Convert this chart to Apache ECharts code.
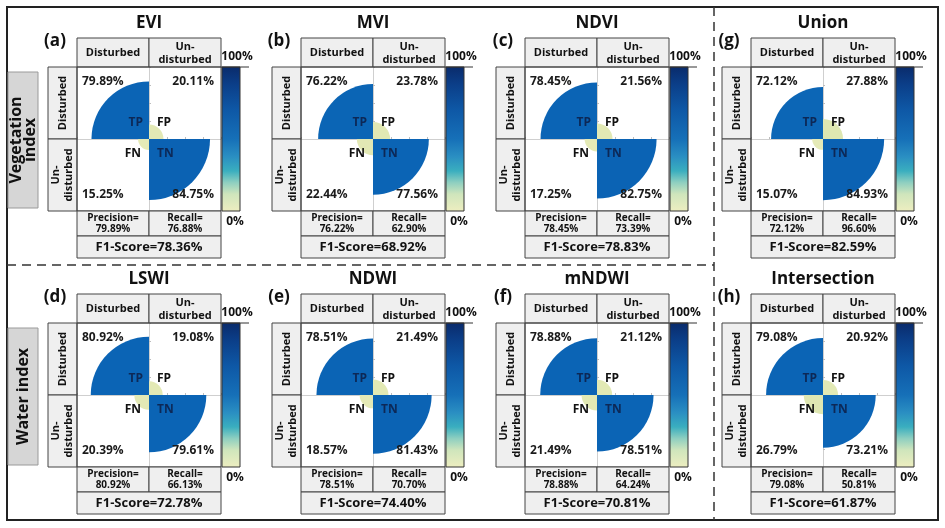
<!DOCTYPE html>
<html><head><meta charset="utf-8">
<script src="https://cdn.jsdelivr.net/npm/echarts@6/dist/echarts.min.js"></script>
<style>html,body{margin:0;padding:0;background:#fff}#c{width:945px;height:528px}</style>
</head><body><div id="c"></div>
<script>
// ---------- data ----------
const panelNames = ['EVI','MVI','NDVI','Union','LSWI','NDWI','mNDWI','Intersection'];
const panelTags = ['(a)','(b)','(c)','(g)','(d)','(e)','(f)','(h)'];
const tpValues = [79.89,76.22,78.45,72.12,80.92,78.51,78.88,79.08];
const fpValues = [20.11,23.78,21.56,27.88,19.08,21.49,21.12,20.92];
const fnValues = [15.25,22.44,17.25,15.07,20.39,18.57,21.49,26.79];
const tnValues = [84.75,77.56,82.75,84.93,79.61,81.43,78.51,73.21];
const precisionValues = [79.89,76.22,78.45,72.12,80.92,78.51,78.88,79.08];
const recallValues = [76.88,62.90,73.39,96.60,66.13,70.70,64.24,50.81];
const f1Values = [78.36,68.92,78.83,82.59,72.78,74.40,70.81,61.87];
const quadrantNames = ['TP','FP','FN','TN'];
const classLabels = ['Disturbed','Un-\ndisturbed'];
const groupLabels = ['Vegetation\nindex','Water index'];
const colorbarTicks = ['100%','0%'];

// ---------- layout / style ----------
const FONT = '"Open Sans","Noto Sans",sans-serif';
const colX = [77, 301, 525, 751];
const rowY = [67, 323];
const S = 144;
const H = S/2;
const mapColors = ['#eeefc2','#e8ecba','#e3e9b5','#dde6b0','#9fd3c0','#3d9bc6','#1a74bb','#0c66b6','#0b64b5','#0b60b0','#0a2d6e'];
const barStops = [
  [0,'#0a2b6b'],[0.12,'#0b3e88'],[0.3,'#0e58a6'],[0.5,'#1670b8'],[0.62,'#2a8ec2'],
  [0.72,'#3aaebf'],[0.8,'#8ecfc0'],[0.88,'#cfe5bc'],[1,'#eeeec0']
];
const headFill = '#efefef', edge = '#444';

function pos(i){ return {x: colX[i%4], y: rowY[Math.floor(i/4)]}; }

const grids = [], xAxes = [], yAxes = [], series = [], elements = [];

function renderQuadrant(params, api){
  const q = api.value(0), v = api.value(1);
  const c = api.coord([0,0]);
  const r = api.size([v/100, 0])[0];
  const half = api.size([1,0])[0];
  const ang = [[Math.PI, Math.PI*1.5],[Math.PI*1.5, Math.PI*2],[Math.PI/2, Math.PI],[0, Math.PI/2]][q];
  const sx = [-1,1,-1,1][q], sy = [-1,-1,1,1][q];
  const cornerX = sx < 0 ? c[0] - half + 5 : c[0] + half - 7;
  const cornerY = sy < 0 ? c[1] - half + 15 : c[1] + half - 16;
  const nameX = [c[0]-6, c[0]+8, c[0]-8, c[0]+8][q];
  const nameY = sy < 0 ? c[1]-16 : c[1]+15;
  return {
    type:'group',
    children:[
      {type:'sector', shape:{cx:c[0], cy:c[1], r0:0, r:r, startAngle:ang[0], endAngle:ang[1], clockwise:true},
       style:{fill: api.visual('color')}},
      {type:'text', z2:10, style:{text: v.toFixed(2)+'%', x:cornerX, y:cornerY, align: sx<0?'left':'right',
        verticalAlign:'middle', fill:'#1a1a1a', font:'bold 12px '+FONT}},
      {type:'text', z2:10, style:{text: quadrantNames[q], x:nameX, y:nameY, align: sx<0?'right':'left',
        verticalAlign:'middle', fill: (q===0||q===3)?'#0d2856':'#111', font:'bold 12px '+FONT}}
    ]
  };
}

function box(x,y,w,h,fill){
  return {type:'rect', shape:{x,y,width:w,height:h}, style:{fill: fill||'none', stroke: edge, lineWidth:1}, z:1};
}
function txt(t,x,y,font,opts){
  return Object.assign({type:'text', z:5, style:Object.assign({text:t, x, y, align:'center', verticalAlign:'middle', fill:'#111', font}, opts && opts.style || {})}, opts && opts.el || {});
}

for (let i = 0; i < 8; i++){
  const p = pos(i);
  grids.push({left:p.x, top:p.y, width:S, height:S});
  const axisCommon = {
    type:'value', gridIndex:i, min:-1, max:1, interval:0.25,
    axisLine:{show:true, onZero:true, lineStyle:{color:'#cfcfcf', width:1}},
    axisTick:{show:true, inside:true, length:2, lineStyle:{color:'#bdbdbd'}},
    axisLabel:{show:false}, splitLine:{show:false}
  };
  xAxes.push(Object.assign({}, axisCommon));
  yAxes.push(Object.assign({}, axisCommon));
  series.push({
    type:'custom', xAxisIndex:i, yAxisIndex:i, clip:false,
    renderItem: renderQuadrant,
    data: [[0,tpValues[i]],[1,fpValues[i]],[2,fnValues[i]],[3,tnValues[i]]]
  });

  // title and tag
  elements.push(txt(panelNames[i], p.x+H, p.y-44, 'bold 17px '+FONT));
  elements.push(txt(panelTags[i], p.x-22, p.y-26, 'bold 17px '+FONT));
  // column headers
  elements.push(box(p.x, p.y-29, H, 29, headFill));
  elements.push(box(p.x+H, p.y-29, H, 29, headFill));
  elements.push(txt(classLabels[0], p.x+H/2, p.y-14, 'bold 11px '+FONT));
  elements.push(txt(classLabels[1], p.x+H*1.5, p.y-14, 'bold 11px '+FONT, {style:{lineHeight:13}}));
  // row headers
  elements.push(box(p.x-29, p.y, 29, H, headFill));
  elements.push(box(p.x-29, p.y+H, 29, H, headFill));
  elements.push(txt(classLabels[0], p.x-14.5, p.y+H/2, 'bold 11px '+FONT, {el:{rotation:Math.PI/2, x:p.x-14.5, y:p.y+H/2}, style:{x:0,y:0}}));
  elements.push(txt(classLabels[1], p.x-14.5, p.y+H*1.5, 'bold 11px '+FONT, {el:{rotation:Math.PI/2, x:p.x-14.5, y:p.y+H*1.5}, style:{x:0,y:0,lineHeight:13}}));
  // plot border
  elements.push(box(p.x, p.y, S, S, null));
  // precision / recall / f1
  elements.push(box(p.x, p.y+S, H, 25, headFill));
  elements.push(box(p.x+H, p.y+S, H, 25, headFill));
  elements.push(box(p.x, p.y+S+25, S, 22, headFill));
  elements.push(txt('Precision=\n'+precisionValues[i].toFixed(2)+'%', p.x+H/2, p.y+S+12.5, 'bold 10px '+FONT, {style:{lineHeight:11}}));
  elements.push(txt('Recall=\n'+recallValues[i].toFixed(2)+'%', p.x+H*1.5, p.y+S+12.5, 'bold 10px '+FONT, {style:{lineHeight:11}}));
  elements.push(txt('F1-Score='+f1Values[i].toFixed(2)+'%', p.x+H, p.y+S+36, 'bold 13px '+FONT));
  // colorbar
  elements.push({type:'rect', z:1, shape:{x:p.x+145, y:p.y, width:18, height:S},
    style:{fill:{type:'linear', x:0, y:0, x2:0, y2:1, colorStops: barStops.map(s=>({offset:s[0], color:s[1]}))}, stroke:'#333', lineWidth:1}});
  elements.push({type:'line', z:2, shape:{x1:p.x+S, y1:p.y, x2:p.x+172, y2:p.y}, style:{stroke:'#333', lineWidth:1}});
  elements.push(txt(colorbarTicks[0], p.x+160, p.y-10, 'bold 12px '+FONT));
  elements.push(txt(colorbarTicks[1], p.x+158, p.y+S+11, 'bold 12px '+FONT));
}

// group labels
[[72,136],[328,137]].forEach((g, k) => {
  elements.push({type:'rect', z:1, shape:{x:8, y:g[0], width:30, height:g[1]}, style:{fill:'#d6d6d6', stroke:'#9a9a9a', lineWidth:1}});
  elements.push({type:'text', z:5, x:23, y:g[0]+g[1]/2, rotation:Math.PI/2,
    style:{text:groupLabels[k], x:0, y:0, align:'center', verticalAlign:'middle', fill:'#111', font:'bold 16px '+FONT, lineHeight:14}});
});
// outer frame & dashed separators
elements.push({type:'rect', z:0, shape:{x:7, y:7, width:931, height:513}, style:{fill:'none', stroke:'#222', lineWidth:2}});
elements.push({type:'line', z:0, shape:{x1:7, y1:265, x2:714, y2:265}, style:{stroke:'#333', lineWidth:1.5, lineDash:[9,6]}});
elements.push({type:'line', z:0, shape:{x1:714, y1:7, x2:714, y2:520}, style:{stroke:'#333', lineWidth:1.5, lineDash:[9,6]}});

const chart = echarts.init(document.getElementById('c'), null, {renderer:'canvas'});
chart.setOption({
  animation:false,
  backgroundColor:'#fff',
  grid: grids, xAxis: xAxes, yAxis: yAxes,
  visualMap: {type:'continuous', show:false, min:0, max:100, dimension:1,
    seriesIndex: series.map((s,k)=>k), inRange:{color: mapColors}},
  series: series,
  graphic: {elements: elements}
});
</script></body></html>
